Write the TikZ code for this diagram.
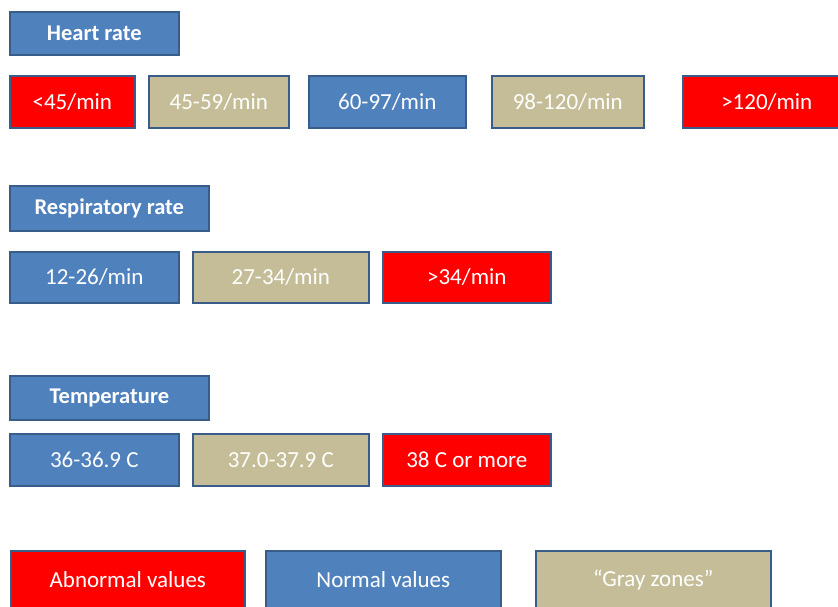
\documentclass[tikz,border=0pt]{standalone}
\usepackage{fontspec}
\setmainfont{Carlito}
\usepackage{xcolor}
\usepackage{tikz}
\usetikzlibrary{positioning}
\definecolor{boxedge}{HTML}{385D8A}
\definecolor{normalbox}{HTML}{4F81BD}
\definecolor{grayzone}{HTML}{C4BD97}
\definecolor{abnormal}{HTML}{FF0000}
\tikzset{
  valbox/.style={draw=boxedge, line width=1.6pt, text=white, anchor=north west,
    inner sep=0pt, minimum height=52, font=\fontsize{23}{27}\selectfont},
  titlebox/.style={valbox, fill=normalbox, font=\fontsize{22.5}{27}\selectfont\bfseries},
  normalv/.style={valbox, fill=normalbox},
  grayv/.style={valbox, fill=grayzone},
  abnormalv/.style={valbox, fill=abnormal}
}

\begin{document}
\begin{tikzpicture}[x=1pt, y=-1pt]
    \useasboundingbox (0,0) rectangle (838,606);
    \clip (0,0) rectangle (838,606);

    % heart rate
    \node[titlebox, minimum width=169, minimum height=43] (hrtitle) at (9,11) {Heart rate};
    \node[abnormalv, minimum width=125] (hrlow) at (9,75) {<45/min};
    \node[grayv, minimum width=140] (hrlowgray) at (148,75) {45-59/min};
    \node[normalv, minimum width=157] (hrnormal) at (308,75) {60-97/min};
    \node[grayv, minimum width=152] (hrhighgray) at (491,75) {98-120/min};
    \node[abnormalv, minimum width=168] (hrhigh) at (682,75) {>120/min};

    % respiratory rate
    \node[titlebox, minimum width=199, minimum height=45] (rrtitle) at (9,185) {Respiratory rate};
    \node[normalv, minimum width=169, minimum height=51] (rrnormal) at (9,251) {12-26/min};
    \node[grayv, minimum width=176, minimum height=51] (rrgray) at (192,251) {27-34/min};
    \node[abnormalv, minimum width=168, minimum height=51] (rrhigh) at (382,251) {>34/min};

    % temperature
    \node[titlebox, minimum width=199, minimum height=44] (temptitle) at (9,375) {Temperature};
    \node[normalv, minimum width=169] (tempnormal) at (9,433) {36-36.9 C};
    \node[grayv, minimum width=176] (tempgray) at (192,433) {37.0-37.9 C};
    \node[abnormalv, minimum width=168] (temphigh) at (382,433) {38 C or more};

    % legend
    \node[abnormalv, minimum width=234, minimum height=58] (keyabnormal) at (10,550) {Abnormal values};
    \node[normalv, minimum width=235, minimum height=58] (keynormal) at (265,550) {Normal values};
    \node[grayv, minimum width=235, minimum height=58] (keygray) at (535,550) {“Gray zones”};
  \end{tikzpicture}
\end{document}
